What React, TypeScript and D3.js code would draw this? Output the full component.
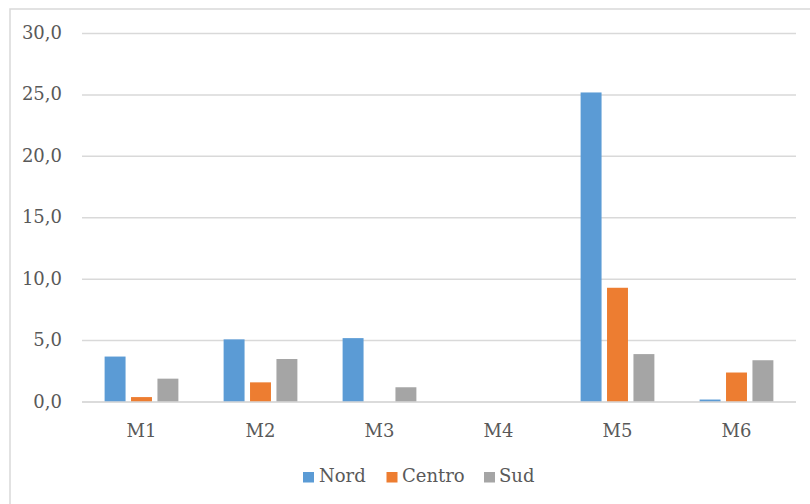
import React from "react";
import * as d3 from "d3";

const categories = ["M1", "M2", "M3", "M4", "M5", "M6"];
const seriesNames = ["Nord", "Centro", "Sud"];
const nord = [3.7, 5.1, 5.2, 0, 25.2, 0.2];
const centro = [0.4, 1.6, 0, 0, 9.3, 2.4];
const sud = [1.9, 3.5, 1.2, 0, 3.9, 3.4];
const yTicks = [0, 5, 10, 15, 20, 25, 30];
const colors = ["#5b9bd5", "#ed7d31", "#a5a5a5"];

export default function App() {
  const W = 810, H = 504;
  const x = d3.scaleBand<string>().domain(categories).range([82, 796]);
  const y = d3.scaleLinear().domain([0, 30]).range([402, 33.5]);
  const bw = x.bandwidth();
  const barW = bw * 0.176;
  const step = bw * 0.222;
  const series = [nord, centro, sud];
  const font = "'DejaVu Serif', serif";
  const textColor = "#595959";
  const fmt = (v: number) => v.toFixed(1).replace(".", ",");
  const legendItems = [
    { name: seriesNames[0], sq: 303, tx: 319 },
    { name: seriesNames[1], sq: 386.5, tx: 402 },
    { name: seriesNames[2], sq: 484, tx: 499 },
  ];
  const ts: React.CSSProperties = { fontFamily: font, fontSize: "18px" };
  return (
    <svg width={W} height={H} style={{ position: "absolute", left: 0, top: 0 }}>
      <rect x={0} y={0} width={W} height={H} fill="#ffffff" />
      <rect x={10} y={9} width={W} height={H} fill="none" stroke="#d9d9d9" strokeWidth={1.5} />
      {yTicks.map((t) => (
        <g key={t}>
          <line x1={82} x2={796} y1={y(t)} y2={y(t)} stroke="#d9d9d9" strokeWidth={1.5} />
          <text x={62} y={y(t) + 5.5} textAnchor="end" style={ts} fill={textColor}>
            {fmt(t)}
          </text>
        </g>
      ))}
      {series.map((vals, si) =>
        categories.map((c, ci) => {
          const cx = (x(c) as number) + bw / 2 + (si - 1) * step;
          const v = vals[ci];
          if (v <= 0) return null;
          return (
            <rect
              key={`${si}-${ci}`}
              x={cx - barW / 2}
              y={y(v)}
              width={barW}
              height={y(0) - y(v)}
              fill={colors[si]}
            />
          );
        })
      )}
      <line x1={82} x2={796} y1={y(0)} y2={y(0)} stroke="#d9d9d9" strokeWidth={1.5} />
      {categories.map((c) => (
        <text
          key={c}
          x={(x(c) as number) + bw / 2}
          y={437}
          textAnchor="middle"
          style={ts}
          fill={textColor}
        >
          {c}
        </text>
      ))}
      {legendItems.map((l, i) => (
        <g key={l.name}>
          <rect x={l.sq} y={472} width={11} height={10.5} fill={colors[i]} />
          <text x={l.tx} y={482} style={ts} fill={textColor}>
            {l.name}
          </text>
        </g>
      ))}
    </svg>
  );
}
